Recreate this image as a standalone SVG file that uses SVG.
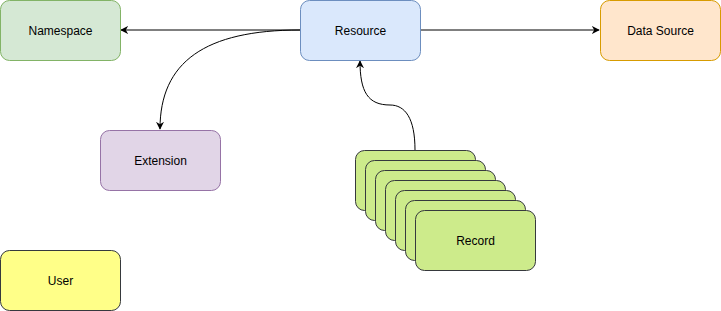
<svg xmlns="http://www.w3.org/2000/svg" width="721" height="311" viewBox="0 0 721 311">
  <style>
    .box { stroke-width: 1; }
    .lbl { font-family: "Liberation Sans", Arial, Helvetica, sans-serif; font-size: 12px; fill: #000; text-anchor: middle; dominant-baseline: central; }
    .edge { fill: none; stroke: #000; stroke-width: 1; marker-end: url(#arrow); }
    .ns { fill: #d5e8d4; stroke: #82b366; }
    .res { fill: #dae8fc; stroke: #6c8ebf; }
    .ds { fill: #ffe6cc; stroke: #d79b00; }
    .ext { fill: #e1d5e7; stroke: #9673a6; }
    .usr { fill: #ffff88; stroke: #36393d; }
    .rec { fill: #cdeb8b; stroke: #36393d; }
  </style>
  <defs>
    <marker id="arrow" viewBox="0 0 10 10" refX="9" refY="5" markerWidth="8" markerHeight="8" markerUnits="userSpaceOnUse" orient="auto">
      <path d="M0,0 L10,5 L0,10 L3,5 Z" fill="#000"/>
    </marker>
  </defs>

  <g id="connectors">
    <path class="edge" d="M300,30 L121,30"/>
    <path class="edge" d="M420,30 L599,30"/>
    <path class="edge" d="M300,30 C205,30 160,62 160,129"/>
    <path class="edge" d="M415,150 C415,118 405,105 390,105 C368,105 360,92 360,61"/>
  </g>

  <g id="namespace">
    <rect class="box ns" x="0.5" y="0.5" width="120" height="60" rx="9"/>
    <text class="lbl" x="60.5" y="30.5">Namespace</text>
  </g>
  <g id="resource">
    <rect class="box res" x="300.5" y="0.5" width="120" height="60" rx="9"/>
    <text class="lbl" x="360.5" y="30.5">Resource</text>
  </g>
  <g id="data-source">
    <rect class="box ds" x="600.5" y="0.5" width="120" height="60" rx="9"/>
    <text class="lbl" x="660.5" y="30.5">Data Source</text>
  </g>
  <g id="extension">
    <rect class="box ext" x="100.5" y="130.5" width="120" height="60" rx="9"/>
    <text class="lbl" x="160.5" y="160.5">Extension</text>
  </g>
  <g id="user">
    <rect class="box usr" x="0.5" y="250.5" width="120" height="60" rx="9"/>
    <text class="lbl" x="60.5" y="280.5">User</text>
  </g>
  <g id="record">
    <rect class="box rec" x="355.5" y="150.5" width="120" height="60" rx="9"/>
    <rect class="box rec" x="365.5" y="160.5" width="120" height="60" rx="9"/>
    <rect class="box rec" x="375.5" y="170.5" width="120" height="60" rx="9"/>
    <rect class="box rec" x="385.5" y="180.5" width="120" height="60" rx="9"/>
    <rect class="box rec" x="395.5" y="190.5" width="120" height="60" rx="9"/>
    <rect class="box rec" x="405.5" y="200.5" width="120" height="60" rx="9"/>
    <rect class="box rec" x="415.5" y="210.5" width="120" height="60" rx="9"/>
    <text class="lbl" x="475.5" y="240.5">Record</text>
  </g>
</svg>
